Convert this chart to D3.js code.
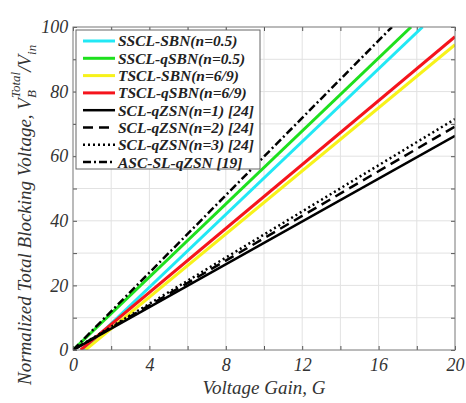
<!DOCTYPE html>
<html>
<head>
<meta charset="utf-8">
<script src="https://cdn.jsdelivr.net/npm/d3@7"></script>
<style>
  html, body { margin: 0; padding: 0; background: #fff; }
  svg { display: block; }
  svg text { font-family: "Liberation Serif", serif !important; font-style: italic; }
</style>
</head>
<body>
<svg id="svg" width="466" height="403"></svg>
<script>
const svg = d3.select("#svg");

// ----- data -----
const seriesNames = [
  "SSCL-SBN(n=0.5)",
  "SSCL-qSBN(n=0.5)",
  "TSCL-SBN(n=6/9)",
  "TSCL-qSBN(n=6/9)",
  "SCL-qZSN(n=1) [24]",
  "SCL-qZSN(n=2) [24]",
  "SCL-qZSN(n=3) [24]",
  "ASC-SL-qZSN [19]"
];
// straight lines: [G, V] start and end points
const sscSbn   = [[0.55, 0], [18.3, 100]];
const sscQsbn  = [[0, 0], [17.7, 100]];
const tscSbn   = [[0.65, 0], [20, 94.5]];
const tscQsbn  = [[0.4, 0], [20, 97]];
const sclN1    = [[0, 0], [20, 66.3]];
const sclN2    = [[0, 0], [20, 69.2]];
const sclN3    = [[0, 0], [20, 71.5]];
const ascSl    = [[0, 0], [16.7, 100]];
const seriesValues = [sscSbn, sscQsbn, tscSbn, tscQsbn, sclN1, sclN2, sclN3, ascSl];

const xTicks = [0, 4, 8, 12, 16, 20];
const yTicks = [0, 20, 40, 60, 80, 100];
const xGrid = [2, 4, 6, 8, 10, 12, 14, 16, 18];
const yGrid = [10, 20, 30, 40, 50, 60, 70, 80, 90];

// ----- styles -----
const styles = [
  { color: "#22e8f5", width: 3, dash: null },
  { color: "#1ee01e", width: 3, dash: null },
  { color: "#f7f21a", width: 3, dash: null },
  { color: "#f5141c", width: 3, dash: null },
  { color: "#000", width: 2.5, dash: null },
  { color: "#000", width: 2.5, dash: "10,6" },
  { color: "#000", width: 2.5, dash: "2,3" },
  { color: "#000", width: 2.5, dash: "8,3,2,3" }
];

const pl = 73, pt = 27, pr = 455, pb = 350;
const x = d3.scaleLinear().domain([0, 20]).range([pl, pr]);
const y = d3.scaleLinear().domain([0, 100]).range([pb, pt]);

svg.append("defs").append("clipPath").attr("id", "plotClip")
  .append("rect").attr("x", pl).attr("y", pt)
  .attr("width", pr - pl).attr("height", pb - pt);

// grid
svg.append("g").selectAll("line").data(xGrid).enter().append("line")
  .attr("x1", d => x(d)).attr("x2", d => x(d))
  .attr("y1", pt).attr("y2", pb)
  .attr("stroke", "#e2e2e2").attr("stroke-width", 1);
svg.append("g").selectAll("line").data(yGrid).enter().append("line")
  .attr("y1", d => y(d)).attr("y2", d => y(d))
  .attr("x1", pl).attr("x2", pr)
  .attr("stroke", "#e2e2e2").attr("stroke-width", 1);

// axes (ticks inward)
const axisColor = "#555";
const allX = [0].concat(xGrid, [20]);
const allY = [0].concat(yGrid, [100]);
const xAxis = svg.append("g").attr("transform", `translate(0,${pb})`)
  .call(d3.axisBottom(x).tickValues(allX).tickSizeInner(-4).tickSizeOuter(0)
    .tickFormat(d => xTicks.includes(d) ? d : ""));
xAxis.selectAll("text").attr("font-size", 18).attr("dy", "1.0em").attr("fill", "#333");
const yAxis = svg.append("g").attr("transform", `translate(${pl},0)`)
  .call(d3.axisLeft(y).tickValues(allY).tickSizeInner(-4).tickSizeOuter(0)
    .tickFormat(d => yTicks.includes(d) ? d : ""));
yAxis.selectAll("text").attr("font-size", 18).attr("dx", "-0.1em").attr("fill", "#333");
svg.append("g").attr("transform", `translate(${pr},0)`)
  .call(d3.axisRight(y).tickValues(allY).tickSizeInner(-4).tickSizeOuter(0).tickFormat(""));
svg.append("g").attr("transform", `translate(0,${pt})`)
  .call(d3.axisTop(x).tickValues(allX).tickSizeInner(-4).tickSizeOuter(0).tickFormat(""));
svg.selectAll(".domain").remove();
svg.selectAll(".tick line").attr("stroke", axisColor);

// lines
const line = d3.line().x(d => x(d[0])).y(d => y(d[1]));
svg.append("g").attr("clip-path", "url(#plotClip)")
  .selectAll("path").data(seriesValues).enter().append("path")
  .attr("d", line)
  .attr("fill", "none")
  .attr("stroke", (d, i) => styles[i].color)
  .attr("stroke-width", (d, i) => styles[i].width)
  .attr("stroke-dasharray", (d, i) => styles[i].dash);

// frame
svg.append("rect").attr("x", pl).attr("y", pt)
  .attr("width", pr - pl).attr("height", pb - pt)
  .attr("fill", "none").attr("stroke", "#777").attr("stroke-width", 1);

// legend
const lg = svg.append("g");
lg.append("rect").attr("x", 76).attr("y", 30).attr("width", 184).attr("height", 139)
  .attr("fill", "#fff").attr("stroke", "#666").attr("stroke-width", 1);
const rowY = i => 41 + i * 17.3;
const rows = lg.selectAll("g.row").data(seriesNames).enter().append("g")
  .attr("transform", (d, i) => `translate(0,${rowY(i)})`);
rows.append("line").attr("x1", 83).attr("x2", 115)
  .attr("stroke", (d, i) => styles[i].color)
  .attr("stroke-width", (d, i) => styles[i].width)
  .attr("stroke-dasharray", (d, i) => styles[i].dash);
rows.append("text").attr("x", 118).attr("y", 0).attr("dy", "0.35em")
  .attr("font-weight", "bold")
  .attr("font-size", 15.5).attr("fill", "#222")
  .text(d => d);

// axis titles
svg.append("text").attr("x", (pl + pr) / 2).attr("y", 394)
  .attr("text-anchor", "middle")
  .attr("font-size", 19).attr("fill", "#333")
  .text("Voltage Gain, G");

const yt = svg.append("text")
  .attr("transform", "translate(31,385) rotate(-90)")
  .attr("font-size", 19).attr("fill", "#333");
yt.append("tspan").text("Normalized Total Blocking Voltage, V");
yt.append("tspan").attr("font-size", 13).attr("dy", 5).text("B");
yt.append("tspan").attr("font-size", 13).attr("dx", -8).attr("dy", -16).text("Total");
yt.append("tspan").attr("dy", 11).text("/V");
yt.append("tspan").attr("font-size", 13).attr("dy", 5).text("in");
</script>
</body>
</html>
